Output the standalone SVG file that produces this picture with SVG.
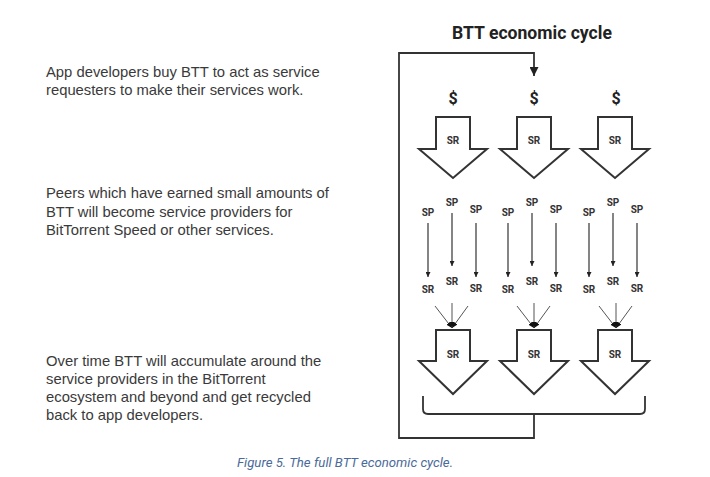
<svg xmlns="http://www.w3.org/2000/svg" width="710" height="477" viewBox="0 0 710 477">
<style>
.body{font-family:"Liberation Sans",Arial,sans-serif;font-size:14.8px;fill:#3a3a3a}
.title{font-family:Roboto,"Liberation Sans",sans-serif;font-weight:bold;font-size:17.6px;fill:#222}
.dol{font-family:Roboto,"Liberation Sans",sans-serif;font-weight:bold;font-size:16px;fill:#222;text-anchor:middle}
.lbl{font-family:Roboto,"Liberation Sans",sans-serif;font-weight:bold;font-size:10px;fill:#333;text-anchor:middle}
.blk{fill:#fff;stroke:#333;stroke-width:2;stroke-linejoin:miter}
.ln{fill:none;stroke:#333;stroke-width:1.2}
.cv{fill:none;stroke:#555;stroke-width:1}
.loop{fill:none;stroke:#333;stroke-width:1.8}
.cap{font-family:Roboto,"Liberation Sans",sans-serif;font-style:italic;font-size:13.2px;fill:#4a6a9a}
</style>
<defs>
<marker id="ah" viewBox="0 0 10 10" refX="10" refY="5" markerWidth="5" markerHeight="5" orient="auto" markerUnits="userSpaceOnUse"><path d="M0,0 L10,5 L0,10 Z" fill="#222"/></marker>
<marker id="ah2" viewBox="0 0 10 10" refX="10" refY="5" markerWidth="9" markerHeight="9" orient="auto" markerUnits="userSpaceOnUse"><path d="M0,0 L10,5 L0,10 Z" fill="#222"/></marker>
<marker id="ah3" viewBox="0 0 10 10" refX="10" refY="5" markerWidth="6" markerHeight="6" orient="auto" markerUnits="userSpaceOnUse"><path d="M0,1 L10,5 L0,9 Z" fill="#111"/></marker>
</defs>
<rect width="710" height="477" fill="#fff"/>

<g id="text-left">
<text class="body" x="46" y="77">App developers buy BTT to act as service</text>
<text class="body" x="46" y="95">requesters to make their services work.</text>
<text class="body" x="46" y="198">Peers which have earned small amounts of</text>
<text class="body" x="46" y="216.5">BTT will become service providers for</text>
<text class="body" x="46" y="235">BitTorrent Speed or other services.</text>
<text class="body" x="46" y="366">Over time BTT will accumulate around the</text>
<text class="body" x="46" y="384">service providers in the BitTorrent</text>
<text class="body" x="46" y="402">ecosystem and beyond and get recycled</text>
<text class="body" x="46" y="419.5">back to app developers.</text>
</g>

<g id="title"><text class="title" x="532" y="39" text-anchor="middle">BTT economic cycle</text></g>

<g id="connectors">
<path class="loop" d="M534,414 V438 H399 V53 H534 V76" marker-end="url(#ah2)"/>
<path class="loop" d="M423,396 V409 Q423,414 428,414 H640 Q645,414 645,409 V396"/>
<path class="ln" d="M428,223 V277" marker-end="url(#ah)"/>
<path class="ln" d="M452,213 V266" marker-end="url(#ah)"/>
<path class="ln" d="M476,223 V277" marker-end="url(#ah)"/>
<path class="ln" d="M508,223 V277" marker-end="url(#ah)"/>
<path class="ln" d="M532,213 V266" marker-end="url(#ah)"/>
<path class="ln" d="M556,223 V277" marker-end="url(#ah)"/>
<path class="ln" d="M589,223 V277" marker-end="url(#ah)"/>
<path class="ln" d="M613,213 V266" marker-end="url(#ah)"/>
<path class="ln" d="M637,223 V277" marker-end="url(#ah)"/>
<path class="cv" d="M435,306 L452,328" marker-end="url(#ah3)"/>
<path class="cv" d="M452,303 L452,328" marker-end="url(#ah3)"/>
<path class="cv" d="M468,306 L452,328" marker-end="url(#ah3)"/>
<path class="cv" d="M517,306 L534,328" marker-end="url(#ah3)"/>
<path class="cv" d="M534,303 L534,328" marker-end="url(#ah3)"/>
<path class="cv" d="M550,306 L534,328" marker-end="url(#ah3)"/>
<path class="cv" d="M599,306 L616,328" marker-end="url(#ah3)"/>
<path class="cv" d="M616,303 L616,328" marker-end="url(#ah3)"/>
<path class="cv" d="M632,306 L616,328" marker-end="url(#ah3)"/>
</g>

<g id="dollars">
<text class="dol" x="453" y="104">$</text>
<text class="dol" x="534" y="104">$</text>
<text class="dol" x="616" y="104">$</text>
</g>

<g id="sr-top-1"><path class="blk" d="M436,117 H470 V149 H487 L453,178 L419,149 H436 Z"/><text class="lbl" x="453" y="144">SR</text></g>
<g id="sr-top-2"><path class="blk" d="M517,117 H551 V149 H568 L534,178 L500,149 H517 Z"/><text class="lbl" x="534" y="144">SR</text></g>
<g id="sr-top-3"><path class="blk" d="M598,117 H632 V149 H649 L615,178 L581,149 H598 Z"/><text class="lbl" x="615" y="144">SR</text></g>

<g id="sp-labels">
<text class="lbl" x="428" y="216">SP</text><text class="lbl" x="452" y="206">SP</text><text class="lbl" x="476" y="213">SP</text>
<text class="lbl" x="508" y="216">SP</text><text class="lbl" x="532" y="206">SP</text><text class="lbl" x="556" y="213">SP</text>
<text class="lbl" x="589" y="216">SP</text><text class="lbl" x="613" y="206">SP</text><text class="lbl" x="637" y="213">SP</text>
</g>
<g id="sr-labels">
<text class="lbl" x="428" y="293">SR</text><text class="lbl" x="452" y="285">SR</text><text class="lbl" x="476" y="292">SR</text>
<text class="lbl" x="508" y="293">SR</text><text class="lbl" x="532" y="285">SR</text><text class="lbl" x="556" y="292">SR</text>
<text class="lbl" x="589" y="293">SR</text><text class="lbl" x="613" y="285">SR</text><text class="lbl" x="637" y="292">SR</text>
</g>

<g id="sr-bot-1"><path class="blk" d="M436,330 H470 V361 H487 L453,394 L419,361 H436 Z"/><text class="lbl" x="453" y="358">SR</text></g>
<g id="sr-bot-2"><path class="blk" d="M517,330 H551 V361 H568 L534,394 L500,361 H517 Z"/><text class="lbl" x="534" y="358">SR</text></g>
<g id="sr-bot-3"><path class="blk" d="M598,330 H632 V361 H649 L615,394 L581,361 H598 Z"/><text class="lbl" x="615" y="358">SR</text></g>

<g id="caption"><text class="cap" x="237" y="467">Figure 5. The full BTT economic cycle.</text></g>
</svg>
